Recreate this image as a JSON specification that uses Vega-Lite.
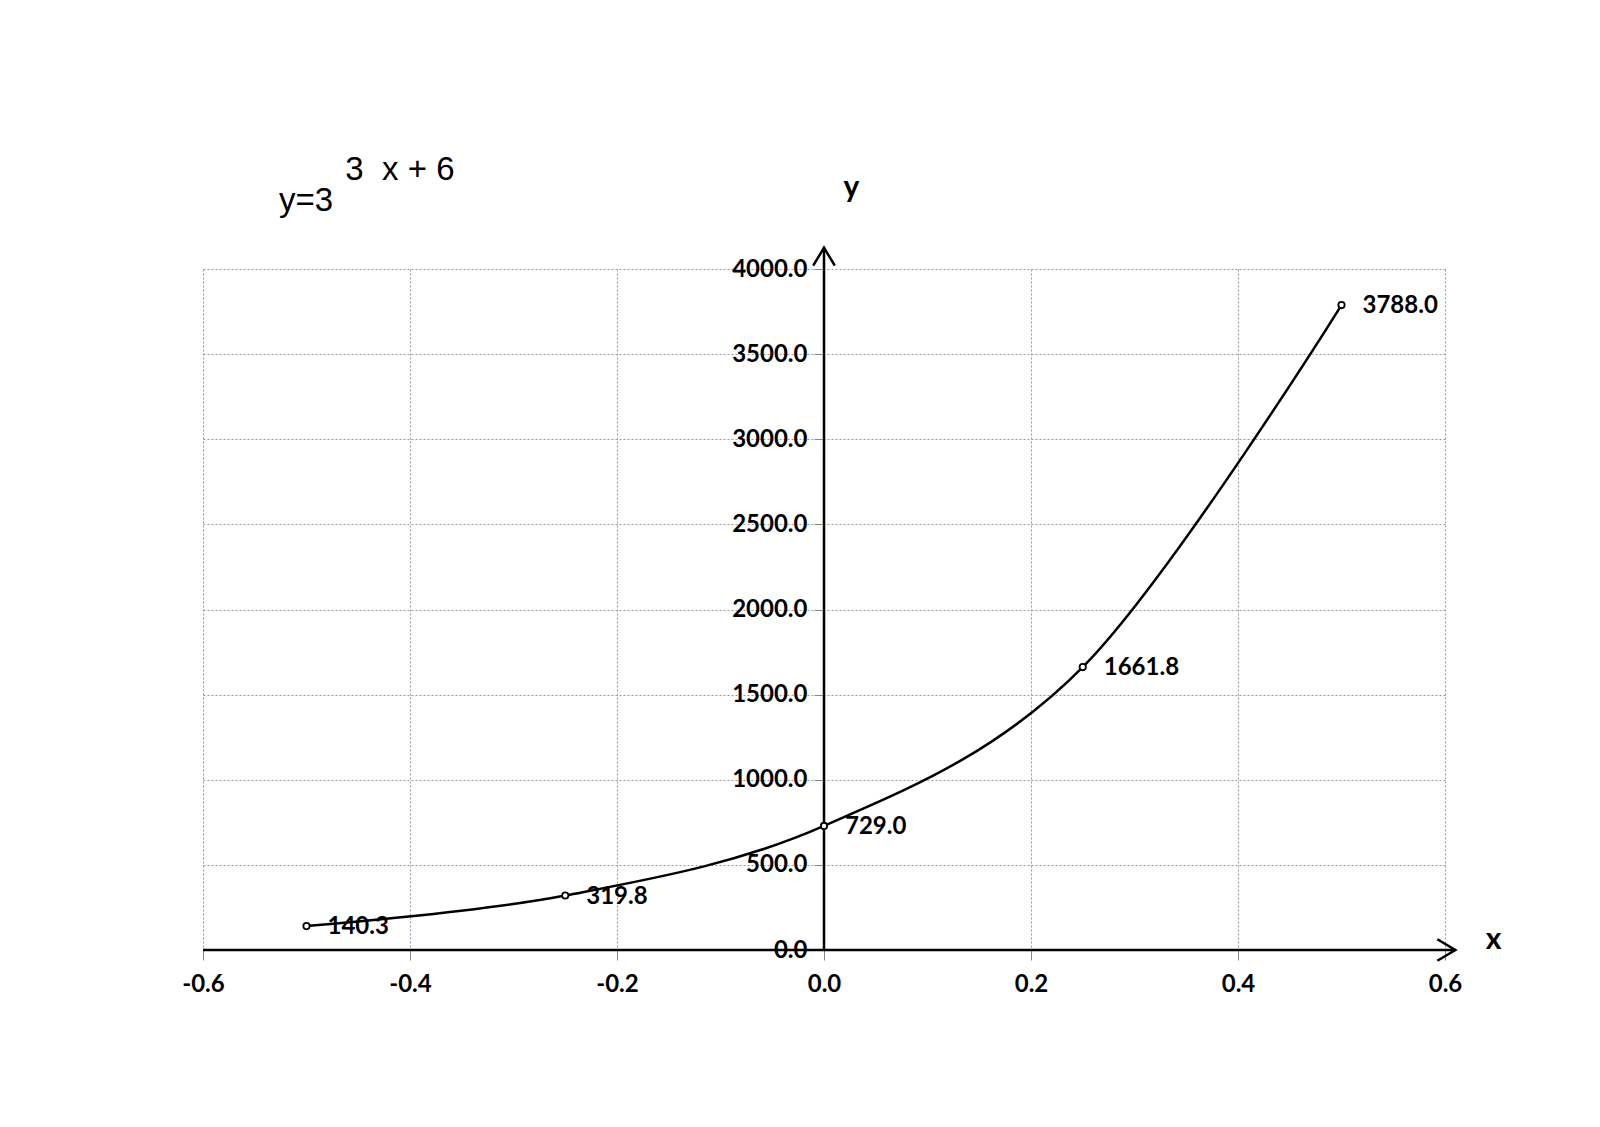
{
  "$schema": "https://vega.github.io/schema/vega-lite/v6.json",
  "width": 1242,
  "height": 681,
  "autosize": "none",
  "padding": {"left": 203, "top": 269, "right": 155, "bottom": 177},
  "background": "white",
  "title": {
    "text": "\u2800\u00a0\u00a0\u28003\u00a0 x + 6",
    "subtitle": "y=3",
    "anchor": "start",
    "frame": "group",
    "dx": 76,
    "offset": -46,
    "font": "Liberation Sans",
    "fontSize": 33,
    "fontWeight": "normal",
    "color": "black",
    "subtitleFont": "Liberation Sans",
    "subtitleFontSize": 33,
    "subtitleColor": "black",
    "subtitlePadding": -2
  },
  "config": {"view": {"stroke": null}},
  "datasets": {
    "pts": [
      {"x": -0.5, "y": 140.3, "label": "140.3"},
      {"x": -0.25, "y": 319.8, "label": "319.8"},
      {"x": 0, "y": 729.0, "label": "729.0"},
      {"x": 0.25, "y": 1661.8, "label": "1661.8"},
      {"x": 0.5, "y": 3788.0, "label": "3788.0"}
    ]
  },
  "layer": [
    {
      "data": {"name": "pts"},
      "mark": {"type": "line", "color": "black", "strokeWidth": 2.5, "interpolate": "cardinal", "tension": 0},
      "encoding": {
        "x": {
          "field": "x", "type": "quantitative",
          "scale": {"domain": [-0.6, 0.6], "nice": false, "zero": false},
          "axis": {
            "orient": "bottom",
            "values": [-0.6, -0.4, -0.2, 0, 0.2, 0.4, 0.6],
            "format": ".1f",
            "labelExpr": "replace(datum.label, '\u2212', '-')",
            "labelFont": "Lato", "labelFontWeight": "bold", "labelFontSize": 24, "labelColor": "black",
            "labelFlush": false, "labelOverlap": false, "labelPadding": 12,
            "tickColor": "#888", "tickSize": 10, "tickWidth": 1,
            "domain": false,
            "grid": true, "gridColor": "#999", "gridDash": [2, 2], "gridWidth": 1,
            "title": "x", "titleX": 1290, "titleY": -11, "titleAngle": 0,
            "titleAlign": "center", "titleBaseline": "middle",
            "titleFont": "Lato", "titleFontWeight": "bold", "titleFontSize": 30, "titleColor": "black"
          }
        },
        "y": {
          "field": "y", "type": "quantitative",
          "scale": {"domain": [0, 4000], "nice": false},
          "axis": {
            "orient": "left",
            "offset": -621,
            "values": [0, 500, 1000, 1500, 2000, 2500, 3000, 3500, 4000],
            "format": ".1f",
            "labelFont": "Lato", "labelFontWeight": "bold", "labelFontSize": 24, "labelColor": "black",
            "labelFlush": false, "labelOverlap": false, "labelPadding": 7,
            "tickColor": "#888", "tickSize": 10, "tickWidth": 1,
            "domain": false,
            "grid": true, "gridColor": "#999", "gridDash": [2, 2], "gridWidth": 1,
            "title": "y", "titleX": 27, "titleY": -82, "titleAngle": 0,
            "titleAlign": "center", "titleBaseline": "middle",
            "titleFont": "Lato", "titleFontWeight": "bold", "titleFontSize": 30, "titleColor": "black"
          }
        }
      }
    },
    {
      "data": {"values": [{}]},
      "mark": {"type": "rule", "color": "black", "strokeWidth": 2.5},
      "encoding": {
        "x": {"datum": 0, "type": "quantitative"},
        "y": {"datum": 0, "type": "quantitative"},
        "y2": {"datum": 4125}
      }
    },
    {
      "data": {"values": [{}]},
      "mark": {"type": "rule", "color": "black", "strokeWidth": 2.5},
      "encoding": {
        "y": {"datum": 0, "type": "quantitative"},
        "x": {"datum": -0.6, "type": "quantitative"},
        "x2": {"datum": 0.61}
      }
    },
    {
      "data": {"values": [{}]},
      "mark": {"type": "point", "shape": "M-0.6,1L0,0L0.6,1", "size": 1296, "filled": false, "color": "black", "strokeWidth": 2.5, "opacity": 1},
      "encoding": {
        "x": {"datum": 0, "type": "quantitative"},
        "y": {"datum": 4125, "type": "quantitative"}
      }
    },
    {
      "data": {"values": [{}]},
      "mark": {"type": "point", "shape": "M-1,-0.6L0,0L-1,0.6", "size": 1296, "filled": false, "color": "black", "strokeWidth": 2.5, "opacity": 1},
      "encoding": {
        "x": {"datum": 0.61, "type": "quantitative"},
        "y": {"datum": 0, "type": "quantitative"}
      }
    },
    {
      "data": {"name": "pts"},
      "mark": {"type": "point", "shape": "circle", "size": 40, "filled": true, "fill": "white", "stroke": "black", "strokeWidth": 1.8, "opacity": 1},
      "encoding": {
        "x": {"field": "x", "type": "quantitative"},
        "y": {"field": "y", "type": "quantitative"}
      }
    },
    {
      "data": {"name": "pts"},
      "mark": {"type": "text", "align": "left", "baseline": "middle", "dx": 21, "dy": 1, "font": "Lato", "fontWeight": "bold", "fontSize": 24, "color": "black"},
      "encoding": {
        "x": {"field": "x", "type": "quantitative"},
        "y": {"field": "y", "type": "quantitative"},
        "text": {"field": "label"}
      }
    }
  ]
}
